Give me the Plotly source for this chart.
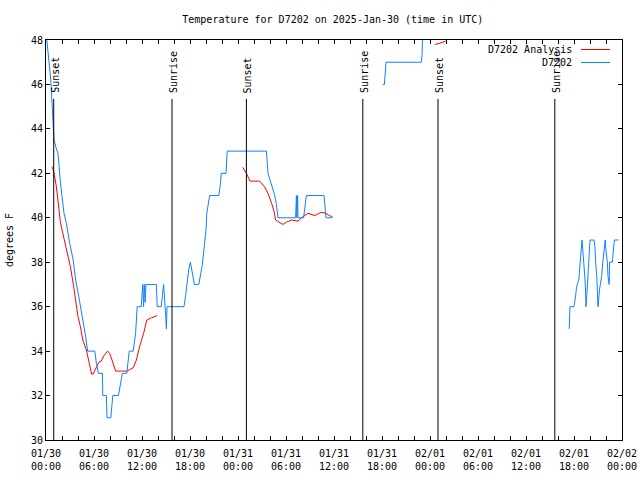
import pandas as pd
import plotly.graph_objects as go

START = pd.Timestamp("2025-01-30 00:00")

# Station observations (hours since 2025-01-30 00:00 UTC, degrees F); None = gap
obs_hours = [0.0, 0.1, 0.6, 0.9, 1.0, 1.3, 1.5, 1.8, 2.05, 2.25, 2.55, 2.96, 3.4, 3.7, 4.1, 4.4, 4.7, 4.96,
             5.2, 6.1, 6.3, 6.55, 7.05, 7.1, 7.55, 7.62, 8.1, 8.35, 9.05, 9.3, 9.55, 10.1, 10.4, 10.9, 11.2,
             11.4, 11.9, 12.1, 12.2, 12.3, 12.4, 12.5, 13.8, 13.9, 14.4, 14.55, 14.7, 14.96, 15.05, 15.13,
             17.25, 17.45, 17.6, 17.85, 18.05, 18.2, 18.35, 18.55, 19.1, 19.3, 19.5, 19.6, 19.8, 20.0, 20.1,
             20.3, 20.45, 21.6, 21.8, 21.9, 22.5, 22.65, 27.55, 27.75, 28.2, 28.6, 28.8, 29.0, 31.2, 31.3,
             31.35, 31.45, 31.5, 32.2, 32.55, 34.75, 35.0, 35.8,
             36.0,
             42.1, 42.3, 42.5, 46.9, 47.0, 47.1, 47.3,
             55.0,
             65.4, 65.45, 65.5, 66.0, 66.05, 66.2, 66.3, 66.4, 66.6, 66.7, 66.8, 66.9, 67.0, 67.1, 67.25,
             67.35, 67.42, 67.5, 67.6, 67.67, 67.75, 67.87, 68.0, 68.5, 68.62, 68.7, 68.85, 69.0, 69.1, 69.2,
             69.3, 69.45, 69.6, 69.8, 69.9, 70.0, 70.17, 70.25, 70.4, 70.45, 70.8, 70.92, 71.05, 71.55]
obs_temp = [48.6, 48.0, 46.2, 44.1, 43.5, 43.1, 42.9, 41.6, 40.8, 40.2, 39.75, 38.85, 38.1, 37.2, 36.45, 35.85,
            35.1, 34.65, 34.0, 34.0, 33.45, 33.0, 33.0, 32.0, 32.0, 31.0, 31.0, 32.0, 32.0, 32.5, 33.0, 33.0,
            34.0, 34.0, 34.8, 36.0, 36.0, 37.0, 36.0, 37.0, 36.2, 37.0, 37.0, 36.0, 36.0, 36.5, 37.0, 35.6,
            35.0, 36.0, 36.0, 36.5, 37.0, 37.7, 38.0, 37.7, 37.35, 37.0, 37.0, 37.35, 37.8, 38.1, 38.7, 39.45,
            40.2, 40.7, 41.0, 41.0, 41.5, 42.0, 42.0, 43.0, 43.0, 42.0, 41.5, 41.0, 40.6, 40.0, 40.0, 41.0,
            40.0, 41.0, 40.0, 40.0, 41.0, 41.0, 40.0, 40.0,
            None,
            46.0, 46.0, 47.0, 47.0, 47.3, 48.5, 49.0,
            None,
            35.0, 35.5, 36.0, 36.0, 36.2, 36.5, 36.8, 37.0, 37.2, 37.6, 37.9, 38.55, 39.0, 38.55, 38.0,
            37.35, 36.9, 36.0, 36.5, 37.0, 37.65, 38.55, 39.0, 39.0, 38.7, 38.0, 37.35, 36.0, 36.5, 36.8,
            37.0, 37.35, 38.0, 38.55, 39.0, 38.5, 38.0, 37.35, 37.0, 38.0, 38.0, 38.55, 39.0, 39.0]

# Analysis (hours since start, degrees F); None = gap
ana_hours = [0.75, 0.95, 1.3, 1.5, 1.8, 2.1, 2.55, 3.05, 3.46, 3.7, 4.0, 4.3, 4.6, 5.05, 5.4, 5.7, 5.9, 6.2,
             6.6, 6.9, 7.25, 7.7, 7.96, 8.25, 8.7, 10.1, 10.9, 11.3, 11.7, 12.2, 12.6, 13.2, 13.9,
             18.0,
             24.6, 25.05, 25.5, 26.7, 27.3, 27.75, 28.2, 28.5, 28.7, 29.2, 29.6, 30.05, 30.7, 31.5, 32.1,
             32.75, 33.6, 34.4, 35.0, 35.4, 35.8,
             40.0,
             48.6, 49.2, 49.95]
ana_temp = [42.3, 42.1, 41.4, 40.7, 39.8, 39.3, 38.55, 37.8, 36.9, 36.2, 35.55, 35.1, 34.5, 34.05, 33.45,
            32.97, 32.97, 33.2, 33.5, 33.55, 33.8, 34.0, 33.9, 33.6, 33.1, 33.1, 33.25, 33.6, 34.2, 34.8,
            35.4, 35.5, 35.6,
            None,
            42.27, 42.0, 41.65, 41.65, 41.4, 41.1, 40.65, 40.3, 39.9, 39.8, 39.7, 39.8, 39.9, 39.85, 40.05,
            40.2, 40.1, 40.25, 40.2, 40.1, 40.05,
            None,
            47.8, 47.85, 47.95]

# Sun events
sun_labels = ["Sunset", "Sunrise", "Sunset", "Sunrise", "Sunset", "Sunrise"]
sun_times = ["2025-01-30 00:58", "2025-01-30 15:45", "2025-01-31 01:03",
             "2025-01-31 15:36", "2025-02-01 01:00", "2025-02-01 15:36"]

title_text = "Temperature for D7202 on 2025-Jan-30 (time in UTC)"
y_title = "degrees F"
series_names = ["D7202 Analysis", "D7202"]
RED = "#ff0000"
BLUE = "#1080ff"
FONT = "DejaVu Sans Mono"


def to_time(hours):
    return [START + pd.Timedelta(hours=h) for h in hours]


fig = go.Figure()
fig.add_trace(go.Scatter(x=to_time(ana_hours), y=ana_temp, mode="lines", name=series_names[0],
                         line=dict(color=RED, width=1), connectgaps=False, showlegend=False))
fig.add_trace(go.Scatter(x=to_time(obs_hours), y=obs_temp, mode="lines", name=series_names[1],
                         line=dict(color=BLUE, width=1), connectgaps=False, showlegend=False))

for lab, t in zip(sun_labels, sun_times):
    fig.add_shape(type="line", xref="x", yref="y", x0=t, x1=t, y0=30, y1=45.35,
                  line=dict(color="black", width=1))
    fig.add_annotation(x=t, y=45.52, xref="x", yref="y", text=lab, textangle=-90,
                       showarrow=False, xanchor="center", yanchor="bottom", xshift=1,
                       font=dict(family=FONT, size=10, color="black"))

# legend (gnuplot style: text right, sample line on the right)
L = 46
W = 576
for i, (name, col) in enumerate(zip(series_names, [RED, BLUE])):
    py = 49.5 + 13 * i
    yp = (440 - py) / 400
    fig.add_annotation(x=(574 - L) / W, y=yp, xref="paper", yref="paper", text=name,
                       showarrow=False, xanchor="right", yanchor="middle",
                       font=dict(family=FONT, size=10, color="black"))
    fig.add_shape(type="line", xref="paper", yref="paper", x0=(581 - L) / W, x1=(610 - L) / W,
                  y0=yp, y1=yp, line=dict(color=col, width=1))

fig.update_layout(
    width=640, height=480,
    margin=dict(l=46, r=18, t=40, b=40, autoexpand=False),
    paper_bgcolor="white", plot_bgcolor="white",
    font=dict(family=FONT, size=10, color="black"),
    title=dict(text=title_text, x=0.52, xref="container", y=1 - 19 / 480, yref="container",
               xanchor="center", yanchor="middle", font=dict(family=FONT, size=10)),
    showlegend=False,
)
fig.update_xaxes(
    type="date", range=["2025-01-30 00:00", "2025-02-02 00:00"], automargin=False,
    dtick=6 * 3600 * 1000, tick0="2025-01-30 00:00", tickformat="%m/%d<br>%H:%M",
    ticks="inside", ticklen=4, tickcolor="black", showgrid=False, zeroline=False,
    showline=True, linecolor="black", linewidth=1, mirror="allticks",
    minor=dict(dtick=2 * 3600 * 1000, ticks="inside", ticklen=4, tickcolor="black", showgrid=False),
    tickfont=dict(family=FONT, size=10), ticklabelstandoff=4,
)
fig.update_yaxes(
    range=[30, 48], dtick=2, tick0=30, automargin=False,
    ticks="inside", ticklen=4, tickcolor="black", showgrid=False, zeroline=False,
    showline=True, linecolor="black", linewidth=1, mirror="allticks",
    title=dict(text=y_title, standoff=15, font=dict(family=FONT, size=10)),
    tickfont=dict(family=FONT, size=10),
)

fig.write_html("out.html", config={"displayModeBar": False},
               post_script="document.body.style.margin='0';document.body.style.overflow='hidden';")
